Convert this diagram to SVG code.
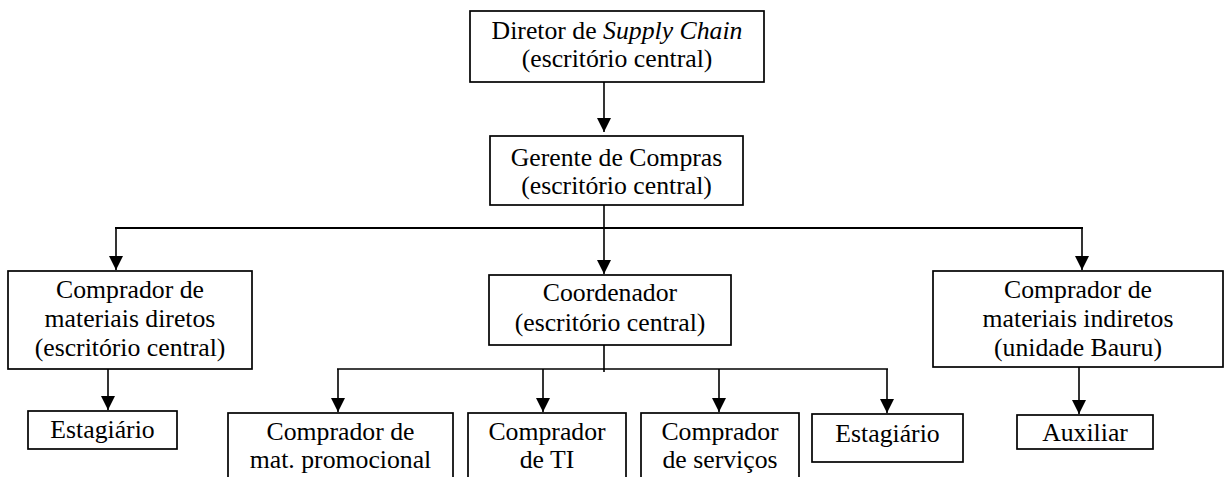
<svg xmlns="http://www.w3.org/2000/svg" width="1229" height="477" viewBox="0 0 1229 477">
<style>
  rect.box { fill: #fff; stroke: #000; stroke-width: 1.7; }
  text { font-family: "Liberation Serif", "Times New Roman", serif; font-size: 25px; fill: #000; text-anchor: middle; }
  .it { font-style: italic; }
  .ln { stroke: #000; stroke-width: 1.6; fill: none; }
</style>
<defs>
  <marker id="arr" markerUnits="userSpaceOnUse" markerWidth="14" markerHeight="15" refX="14" refY="7" orient="auto" viewBox="0 0 14 14">
    <path d="M0,0 L14,7 L0,14 z" fill="#000"/>
  </marker>
</defs>
<rect width="1229" height="477" fill="#fff"/>

<g id="connectors">
  <line class="ln" x1="604" y1="82" x2="604" y2="132" marker-end="url(#arr)"/>
  <line class="ln" x1="604" y1="205" x2="604" y2="228"/>
  <line class="ln" x1="115" y1="228" x2="1083" y2="228" style="stroke-width:2"/>
  <line class="ln" x1="116" y1="228" x2="116" y2="270" marker-end="url(#arr)"/>
  <line class="ln" x1="604" y1="228" x2="604" y2="274" marker-end="url(#arr)"/>
  <line class="ln" x1="1082" y1="228" x2="1082" y2="270" marker-end="url(#arr)"/>
  <line class="ln" x1="108" y1="369" x2="108" y2="410" marker-end="url(#arr)"/>
  <line class="ln" x1="1079" y1="367" x2="1079" y2="414" marker-end="url(#arr)"/>
  <line class="ln" x1="604" y1="345" x2="604" y2="372"/>
  <line class="ln" x1="337" y1="369" x2="888" y2="369"/>
  <line class="ln" x1="338" y1="369" x2="338" y2="412" marker-end="url(#arr)"/>
  <line class="ln" x1="543" y1="369" x2="543" y2="412" marker-end="url(#arr)"/>
  <line class="ln" x1="719" y1="369" x2="719" y2="412" marker-end="url(#arr)"/>
  <line class="ln" x1="887" y1="369" x2="887" y2="413" marker-end="url(#arr)"/>
</g>

<g id="diretor">
  <rect class="box" x="470" y="11" width="294" height="71"/>
  <text x="0" y="39" transform="translate(617,0) scale(1.03,1)">Diretor de <tspan class="it">Supply Chain</tspan></text>
  <text x="0" y="67" transform="translate(617,0) scale(1.03,1)">(escritório central)</text>
</g>

<g id="gerente">
  <rect class="box" x="490" y="136" width="253" height="69"/>
  <text x="0" y="166" transform="translate(616.5,0) scale(1.03,1)">Gerente de Compras</text>
  <text x="0" y="194" transform="translate(616.5,0) scale(1.03,1)">(escritório central)</text>
</g>

<g id="comprador-diretos">
  <rect class="box" x="8" y="271" width="244" height="98"/>
  <text x="0" y="298" transform="translate(130,0) scale(1.03,1)">Comprador de</text>
  <text x="0" y="327" transform="translate(130,0) scale(1.03,1)">materiais diretos</text>
  <text x="0" y="356" transform="translate(130,0) scale(1.03,1)">(escritório central)</text>
</g>

<g id="estagiario-1">
  <rect class="box" x="28" y="411" width="149" height="38"/>
  <text x="0" y="438" transform="translate(102.5,0) scale(1.03,1)">Estagiário</text>
</g>

<g id="coordenador">
  <rect class="box" x="489" y="275" width="242" height="70"/>
  <text x="0" y="301" transform="translate(610,0) scale(1.03,1)">Coordenador</text>
  <text x="0" y="331" transform="translate(610,0) scale(1.03,1)">(escritório central)</text>
</g>

<g id="comprador-indiretos">
  <rect class="box" x="933" y="271" width="290" height="96"/>
  <text x="0" y="298" transform="translate(1078,0) scale(1.03,1)">Comprador de</text>
  <text x="0" y="327" transform="translate(1078,0) scale(1.03,1)">materiais indiretos</text>
  <text x="0" y="356" transform="translate(1078,0) scale(1.03,1)">(unidade Bauru)</text>
</g>

<g id="auxiliar">
  <rect class="box" x="1017" y="415" width="136" height="34"/>
  <text x="0" y="441" transform="translate(1085,0) scale(1.03,1)">Auxiliar</text>
</g>

<g id="comprador-promocional">
  <rect class="box" x="228" y="413" width="225" height="90"/>
  <text x="0" y="440" transform="translate(340.5,0) scale(1.03,1)">Comprador de</text>
  <text x="0" y="468" transform="translate(340.5,0) scale(1.03,1)">mat. promocional</text>
</g>

<g id="comprador-ti">
  <rect class="box" x="468" y="413" width="158" height="90"/>
  <text x="0" y="440" transform="translate(547,0) scale(1.03,1)">Comprador</text>
  <text x="0" y="468" transform="translate(547,0) scale(1.03,1)">de TI</text>
</g>

<g id="comprador-servicos">
  <rect class="box" x="641" y="413" width="158" height="90"/>
  <text x="0" y="440" transform="translate(720,0) scale(1.03,1)">Comprador</text>
  <text x="0" y="468" transform="translate(720,0) scale(1.03,1)">de serviços</text>
</g>

<g id="estagiario-2">
  <rect class="box" x="812" y="414" width="151" height="48"/>
  <text x="0" y="442" transform="translate(887.5,0) scale(1.03,1)">Estagiário</text>
</g>
</svg>
